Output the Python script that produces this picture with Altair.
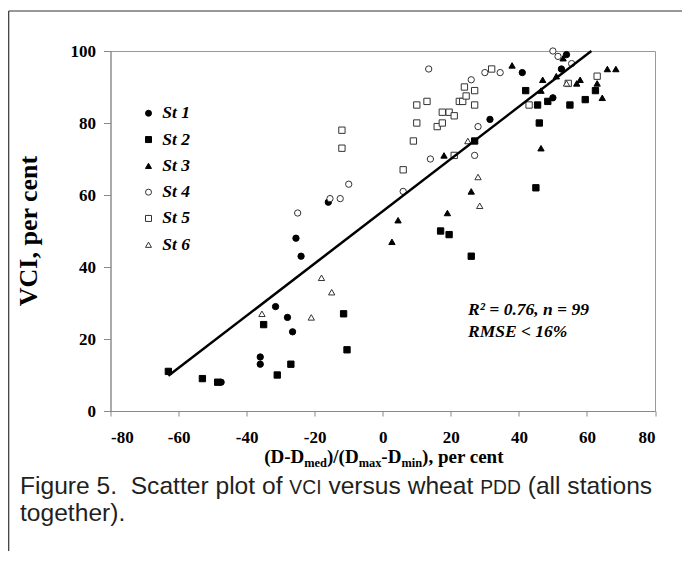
import altair as alt
import pandas as pd

# ---------------- data ----------------
stations = ["St 1", "St 2", "St 3", "St 4", "St 5", "St 6"]

st1_x = [-47.5, -36, -36, -31.5, -28, -26.5, -25.5, -24, -16, 31.5, 41, 50, 52.5, 54]
st1_y = [8, 13, 15, 29, 26, 22, 48, 43, 58, 81, 94, 87, 95, 99]

st2_x = [-63, -53, -48.5, -35, -31, -27, -11.5, -10.5, 17, 19.5, 26, 27, 42, 45, 45.5, 46, 48.5, 55, 59.5, 62.5]
st2_y = [11, 9, 8, 24, 10, 13, 27, 17, 50, 49, 43, 75, 89, 62, 85, 80, 86, 85, 86.5, 89]

st3_x = [2.7, 4.5, 18, 19, 26, 38, 46.5, 46.5, 47, 51, 53, 57, 58, 63, 64.5, 66, 68.5]
st3_y = [47, 53, 71, 55, 61, 96, 73, 89, 92, 93, 98, 91, 92, 91, 87, 95, 95]

st4_x = [-25, -15.5, -12.5, -10, 6, 13.5, 14, 26, 27, 28, 30, 34.5, 50, 51.5, 55.5]
st4_y = [55, 59, 59, 63, 61, 95, 70, 92, 71, 79, 94, 94, 100, 98.5, 96.5]

st5_x = [-12, -12, 6, 9, 10, 10, 13, 16, 17.5, 17.5, 19.5, 21, 21, 22.5, 23.5, 24, 24.5, 27, 27, 32, 43, 54.5, 63]
st5_y = [78, 73, 67, 75, 85, 80, 86, 79, 80, 83, 83, 82, 71, 86, 86, 90, 87.5, 89, 85, 95, 85, 91, 93]

st6_x = [-35.5, -21, -18, -15, 25, 28, 28.5, 54]
st6_y = [27, 26, 37, 33, 75, 65, 57, 91]

fit_intercept = 55.5
fit_slope = 0.726
fit_x = [-63, 61.3]

x_ticks = [-80, -60, -40, -20, 0, 20, 40, 60, 80]
y_ticks = [0, 20, 40, 60, 80, 100]

annot_lines = ["R\u00b2 = 0.76, n = 99", "RMSE < 16%"]
y_title = "VCI, per cent"
x_title_parts = [("(D-D", "main"), ("med", "sub"), (")/(D", "main"), ("max", "sub"),
                 ("-D", "main"), ("min", "sub"), ("), per cent", "main")]
caption_line1 = [("Figure 5.  Scatter plot of ", "n"), ("VCI", "sc"), (" versus wheat ", "n"),
                 ("PDD", "sc"), (" (all stations", "n")]
caption_line2 = "together)."

# ---------------- build table ----------------
rows = []
for name, xs, ys in zip(stations, [st1_x, st2_x, st3_x, st4_x, st5_x, st6_x],
                        [st1_y, st2_y, st3_y, st4_y, st5_y, st6_y]):
    for a, b in zip(xs, ys):
        rows.append({"station": name, "pdd": a, "vci": b})
df = pd.DataFrame(rows)

line_df = pd.DataFrame({"pdd": fit_x, "vci": [fit_intercept + fit_slope * v for v in fit_x]})

# ---------------- layout ----------------
W, H = 544.5, 360
PAD_L, PAD_T, PAD_R, PAD_B = 102.5, 43, 27, 140
SERIF = "Liberation Serif"
SANS = "Liberation Sans"

xscale = alt.Scale(domain=[-80, 80], nice=False, zero=False)
yscale = alt.Scale(domain=[0, 100], nice=False)

shapes = ["circle", "square", "triangle-up", "circle", "square", "triangle-up"]
fills = ["black", "black", "black", "white", "white", "white"]
strokes = ["black", "black", "black", "#333333", "#333333", "#333333"]

legend = alt.Legend(title=None, orient="none", legendX=29.25, legendY=53.5,
                    labelFont=SERIF, labelFontStyle="italic",
                    labelFontWeight="bold", labelFontSize=17.5, labelColor="black",
                    symbolSize=36, rowPadding=7.3, labelOffset=5, padding=0,
                    symbolStrokeWidth=1)

points = alt.Chart(df).mark_point(size=40, strokeWidth=1, opacity=1).encode(
    x=alt.X("pdd:Q", scale=xscale,
            axis=alt.Axis(values=x_ticks, tickSize=5, labelPadding=13, title=None,
                          labelFont=SERIF, labelFontWeight="bold", labelFontSize=17,
                          labelExpr="'' + datum.value")),
    y=alt.Y("vci:Q", scale=yscale,
            axis=alt.Axis(values=y_ticks, tickSize=7, labelPadding=8, title=None,
                          labelFont=SERIF, labelFontWeight="bold", labelFontSize=17)),
    shape=alt.Shape("station:N", scale=alt.Scale(domain=stations, range=shapes), legend=legend),
    fill=alt.Fill("station:N", scale=alt.Scale(domain=stations, range=fills), legend=legend),
    stroke=alt.Stroke("station:N", scale=alt.Scale(domain=stations, range=strokes), legend=legend),
)

fit_line = alt.Chart(line_df).mark_line(color="black", strokeWidth=2.5).encode(
    x=alt.X("pdd:Q", scale=xscale), y=alt.Y("vci:Q", scale=yscale))

one = alt.Data(values=[{}])


def txt(text, x, y, size, font=SERIF, weight="bold", style="normal",
        align="left", angle=0, color="black"):
    kw = dict(font=font, fontSize=size, fontWeight=weight, fontStyle=style,
              align=align, baseline="alphabetic", color=color)
    if angle:
        kw["angle"] = angle
    return alt.Chart(one).mark_text(**kw).encode(
        x=alt.value(x), y=alt.value(y), text=alt.value(text))


layers = [points, fit_line]

# annotation
layers.append(txt(annot_lines[0], 357.5, 264, 17.5, style="italic"))
layers.append(txt(annot_lines[1], 357.5, 286, 17.5, style="italic"))

# y title
layers.append(txt(y_title, -73.5, H / 2, 26, align="center", angle=270))

# x title with subscripts
tb = {'(': 333, ')': 333, '-': 333, '/': 278, ',': 250, ' ': 250, 'D': 722, 'p': 556,
      'e': 444, 'r': 444, 'c': 444, 'n': 556, 't': 333, 'm': 833, 'd': 556, 'a': 500,
      'x': 500, 'i': 278}
MAIN, SUB = 19, 12.4
XT_BASE = 412
widths = [sum(tb.get(ch, 500) for ch in s) / 1000 * (MAIN if k == "main" else SUB)
          for s, k in x_title_parts]
cx = 384 - 110.5 - sum(widths) / 2
for (s, k), w in zip(x_title_parts, widths):
    if k == "main":
        layers.append(txt(s, cx, XT_BASE, MAIN))
    else:
        layers.append(txt(s, cx, XT_BASE + 4, SUB))
    cx += w

# caption (segments; leading/trailing spaces are accounted in positions)
ar = {' ': 278, '(': 333, ')': 333, '.': 278, '5': 556, 'F': 611, 'S': 667, 'V': 667,
      'C': 722, 'I': 278, 'P': 667, 'D': 722, 'a': 556, 'c': 500, 'e': 556, 'f': 278,
      'g': 556, 'h': 556, 'i': 222, 'l': 222, 'n': 556, 'o': 556, 'p': 556, 'r': 333,
      's': 500, 't': 278, 'u': 556, 'v': 500, 'w': 722}


def aw(s, size):
    return sum(ar.get(ch, 556) for ch in s) / 1000 * size


CAP, SC = 24.6, 19.3
CAP_B1, CAP_B2 = 443, 470
cx = 20 - 110.5
for s, k in caption_line1:
    size = CAP if k == "n" else SC
    lead = len(s) - len(s.lstrip(" "))
    core = s.strip(" ").replace("  ", "\u00a0 ")
    layers.append(txt(core, cx + aw(" " * lead, CAP), CAP_B1, size, font=SANS,
                      weight="normal", color="#231f20"))
    cx += aw(s.replace(" ", ""), size) + s.count(" ") * 0.278 * CAP
layers.append(txt(caption_line2, 20 - 110.5, CAP_B2, CAP, font=SANS,
                  weight="normal", color="#231f20"))

# outer figure frame (top and left)
layers.append(alt.Chart(one).mark_rule(color="#333333", strokeWidth=1.2).encode(
    x=alt.value(-101.8), x2=alt.value(W + PAD_R), y=alt.value(-40)))
layers.append(alt.Chart(one).mark_rule(color="#333333", strokeWidth=1.2).encode(
    x=alt.value(-101.8), y=alt.value(-40), y2=alt.value(H + PAD_B)))

chart = alt.layer(*layers).properties(
    width=W, height=H, autosize="none",
    padding={"left": PAD_L, "top": PAD_T, "right": PAD_R, "bottom": PAD_B},
).configure(font=SERIF).configure_view(stroke="#999999", strokeWidth=1).configure_axis(
    domainColor="#888888", tickColor="#888888", domainWidth=1, tickWidth=1,
    labelFont=SERIF, labelFontWeight="bold", labelFontSize=17,
    labelColor="black", grid=False).configure_legend(labelFont=SERIF)

chart.save("out.html", embed_options={"renderer": "svg", "actions": False})
